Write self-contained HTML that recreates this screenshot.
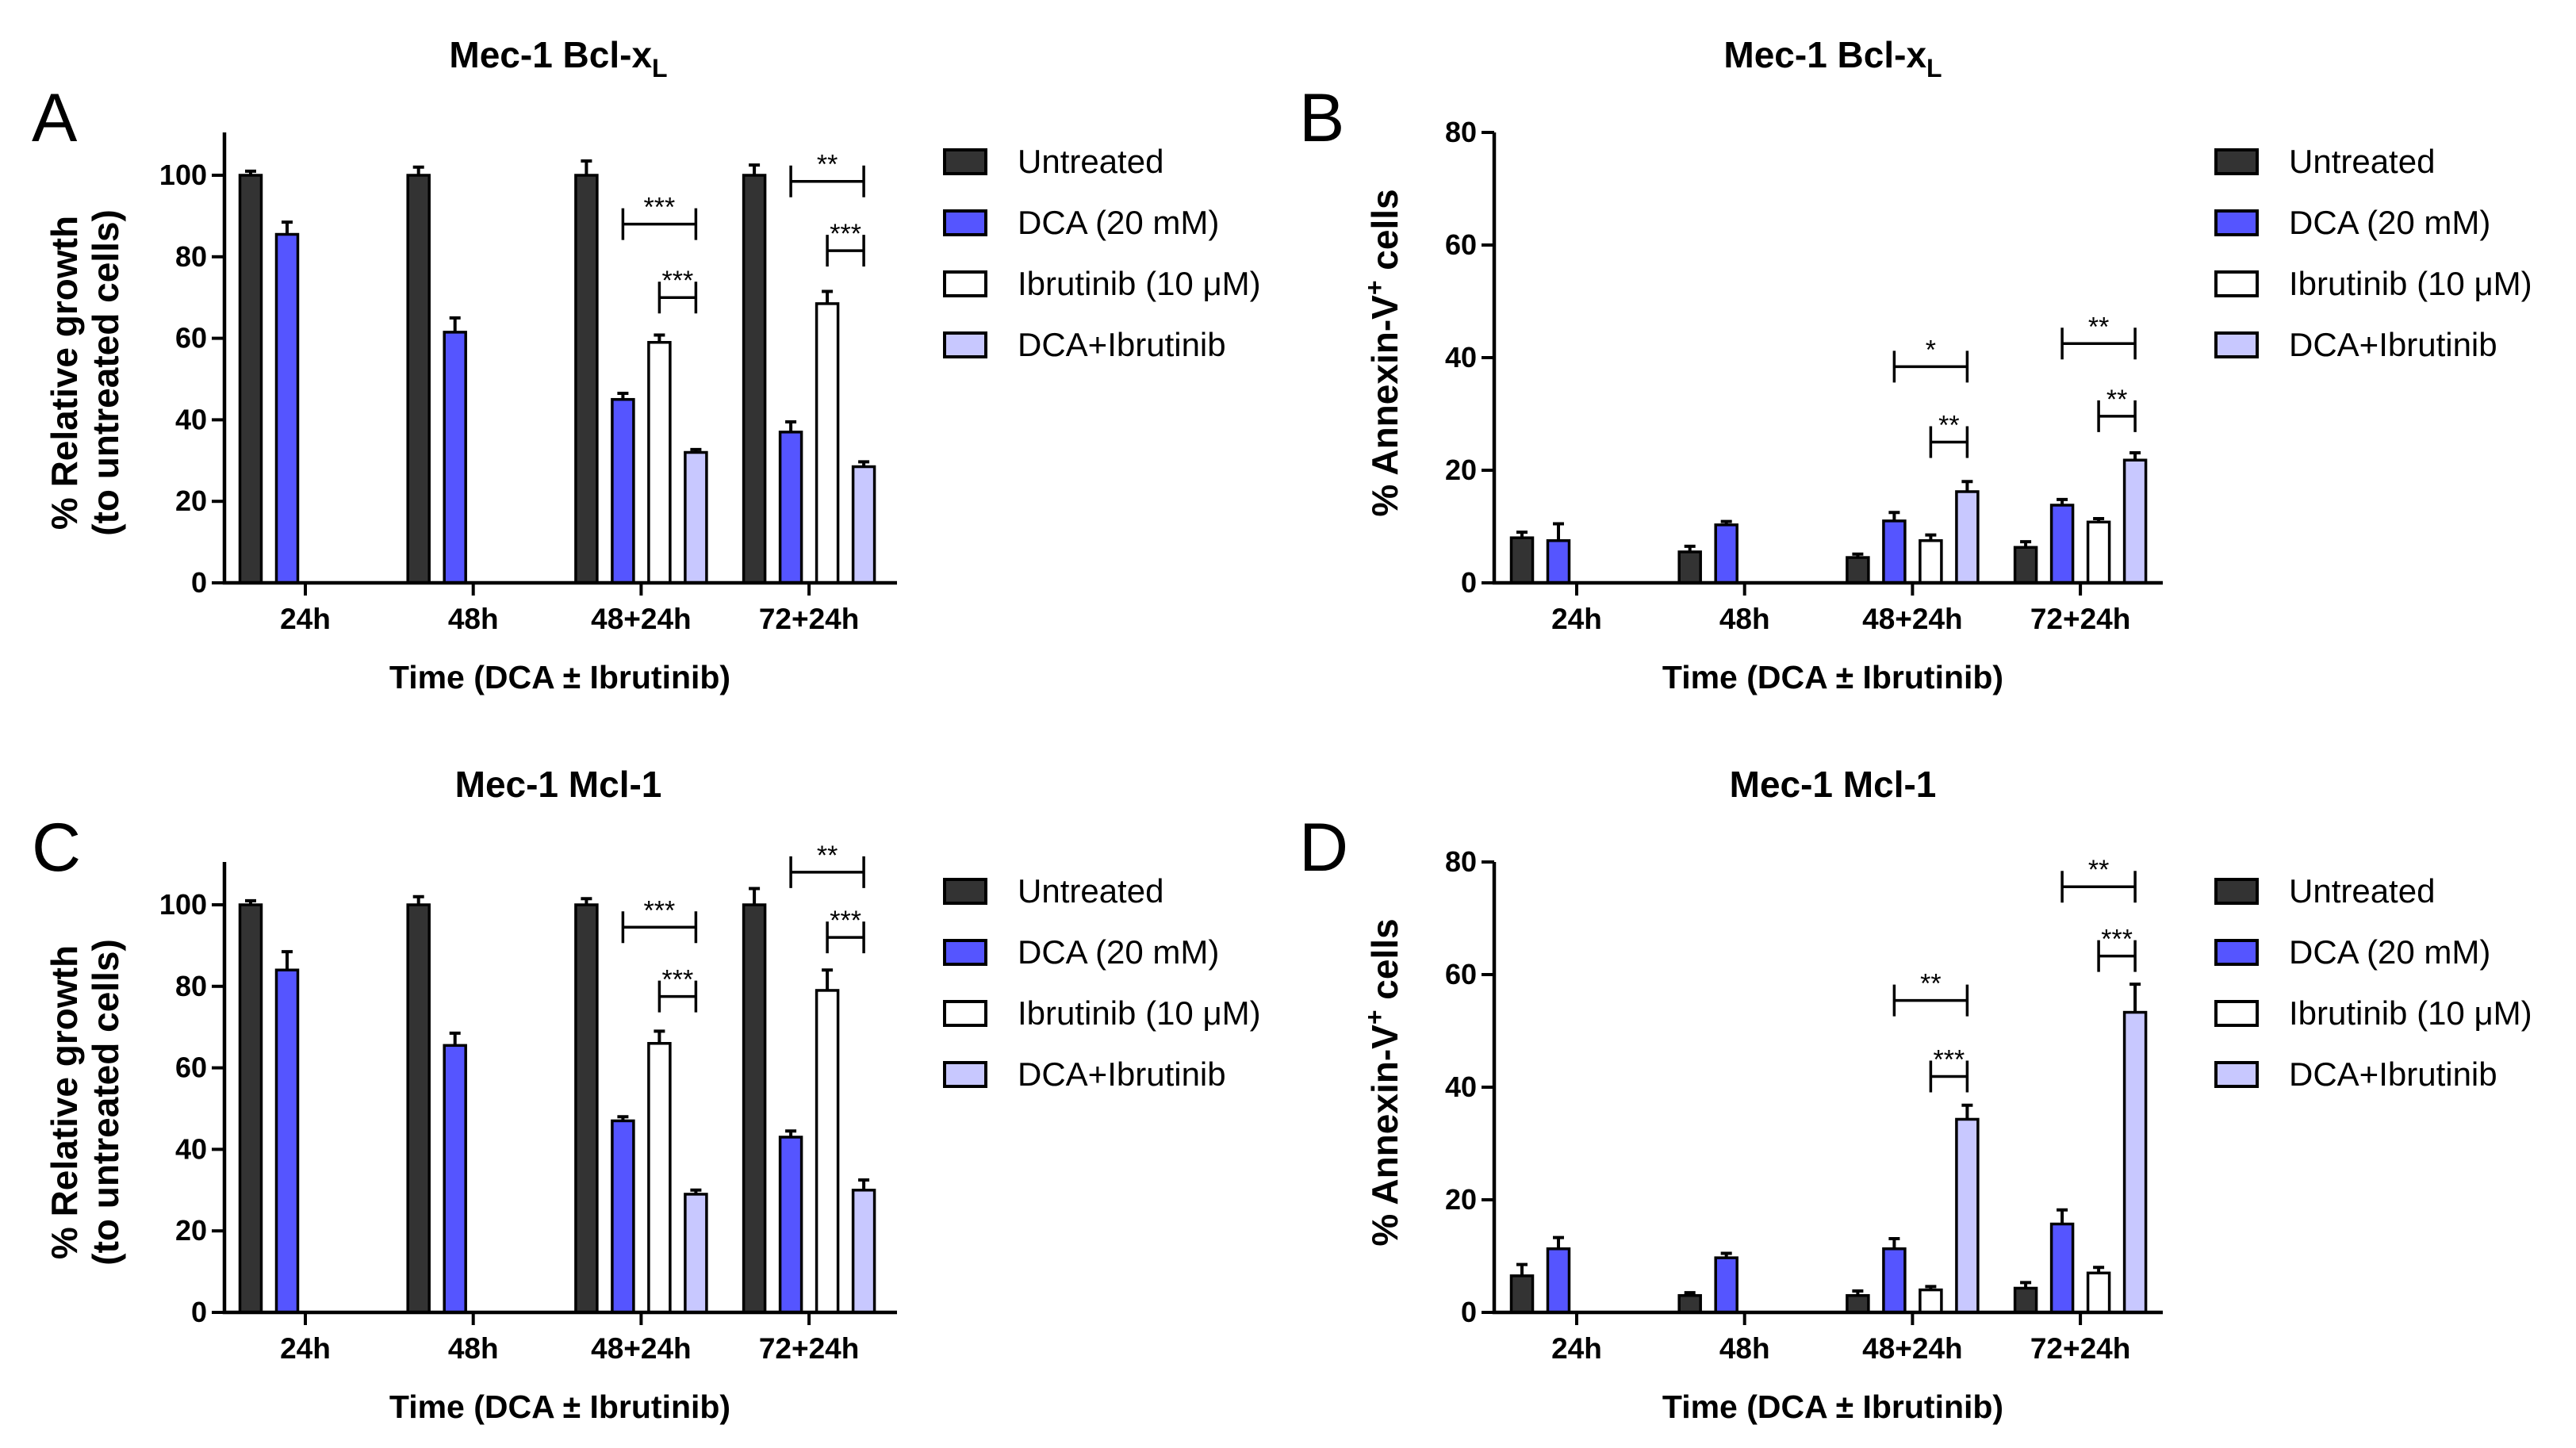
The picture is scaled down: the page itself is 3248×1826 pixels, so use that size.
<!DOCTYPE html>
<html><head><meta charset="utf-8">
<style>
html,body{margin:0;padding:0;background:#fff;}
svg{display:block;font-family:"Liberation Sans",Arial,sans-serif;}
</style></head>
<body>
<svg id="fig" width="3248" height="1826" viewBox="0 0 3248 1826" xmlns="http://www.w3.org/2000/svg"></svg>
<script>
const groups = ["24h","48h","48+24h","72+24h"];
const seriesNames = ["Untreated","DCA (20 mM)","Ibrutinib (10 \u03BCM)","DCA+Ibrutinib"];
// Panel A
const aUntreated = [100,100,100,100];
const aUntreatedErr = [1,2,3.5,2.5];
const aDCA = [85.5,61.5,45,37];
const aDCAErr = [3,3.5,1.5,2.5];
const aIbr = [null,null,59,68.5];
const aIbrErr = [0,0,1.8,3];
const aCombo = [null,null,32,28.5];
const aComboErr = [0,0,0.7,1.2];
const aSig = [[2,1,3,88,"***"],[2,2,3,70,"***"],[3,1,3,98.5,"**"],[3,2,3,81.5,"***"]];
// Panel B
const bUntreated = [8,5.5,4.5,6.3];
const bUntreatedErr = [1,1,0.6,1];
const bDCA = [7.5,10.3,11,13.8];
const bDCAErr = [3,0.6,1.5,1];
const bIbr = [null,null,7.5,10.8];
const bIbrErr = [0,0,1,0.6];
const bCombo = [null,null,16.2,21.8];
const bComboErr = [0,0,1.8,1.3];
const bSig = [[2,1,3,38.4,"*"],[2,2,3,25,"**"],[3,1,3,42.5,"**"],[3,2,3,29.6,"**"]];
// Panel C
const cUntreated = [100,100,100,100];
const cUntreatedErr = [1,2,1.5,4];
const cDCA = [84,65.5,47,43];
const cDCAErr = [4.5,3,1,1.5];
const cIbr = [null,null,66,79];
const cIbrErr = [0,0,3,5];
const cCombo = [null,null,29,30];
const cComboErr = [0,0,1,2.5];
const cSig = [[2,1,3,94.5,"***"],[2,2,3,77.5,"***"],[3,1,3,108,"**"],[3,2,3,92,"***"]];
// Panel D
const dUntreated = [6.5,3,3,4.3];
const dUntreatedErr = [2,0.5,0.8,1];
const dDCA = [11.3,9.7,11.3,15.7];
const dDCAErr = [2,0.8,1.8,2.5];
const dIbr = [null,null,4,7];
const dIbrErr = [0,0,0.6,1];
const dCombo = [null,null,34.3,53.3];
const dComboErr = [0,0,2.5,5];
const dSig = [[2,1,3,55.4,"**"],[2,2,3,41.9,"***"],[3,1,3,75.6,"**"],[3,2,3,63.3,"***"]];
const yTicksA = [0,20,40,60,80,100];
const yTicksB = [0,20,40,60,80];

const colors = ["#333333","#5555ff","#ffffff","#c8c8ff"];
const NS = "http://www.w3.org/2000/svg";
const svg = document.getElementById("fig");
function mk(tag, attrs, parent, text){
  const e = document.createElementNS(NS, tag);
  for (const k in attrs) e.setAttribute(k, attrs[k]);
  if (text !== undefined) e.textContent = text;
  (parent||svg).appendChild(e);
  return e;
}

function panel(opt){
  const g = mk("g", {});
  
  
  const ax = opt.ax, y0 = opt.y0, yTop = opt.yTop, ymax = opt.ymax;
  const yS = v => y0 - (v/ymax)*(y0 - yTop);
  const gx = i => opt.g0 + i*opt.gStep;
  const offs = [-69,-23,23,69];
  const bx = (i,s) => gx(i) + offs[s];
  const bw = 27;
  const t = mk("text", {x:opt.titleX, y:opt.titleY, "text-anchor":"middle", "font-size":46, "font-weight":"bold"}, g, opt.title);
  
  
  if (opt.sub){ mk("tspan",{"font-size":32,dy:12},t,opt.sub); }
  const L = mk("text", {x:opt.letterX, y:opt.letterY, "font-size":86}, g, opt.id.toUpperCase());
  
  
  const vals = opt.vals, errs = opt.errs;
  for (let s=0;s<4;s++){
    for (let i=0;i<groups.length;i++){
      const v = vals[s][i];
      if (v===null || v===undefined) continue;
      const x = bx(i,s);
      const r = mk("rect",{x:x-bw/2,y:yS(v),width:bw,height:y0-yS(v),fill:colors[s],stroke:"#000","stroke-width":3.5},g);
      
      
      const e = errs[s][i];
      if (e>0){
        const eb = mk("path",{d:`M${x} ${yS(v)} V${yS(v+e)} M${x-7} ${yS(v+e)} H${x+7}`,stroke:"#000","stroke-width":4,fill:"none"},g);
        
        
      }
    }
  }
  const axl = mk("path",{d:`M${ax} ${opt.axTop} V${y0} H${opt.axEnd}`,stroke:"#000","stroke-width":4.5,fill:"none"},g);
  
  
  opt.ticks.forEach(v=>{
    mk("path",{d:`M${ax-16} ${yS(v)} H${ax}`,stroke:"#000","stroke-width":4},g);
    const tl = mk("text",{x:ax-22,y:yS(v)+12,"text-anchor":"end","font-size":36,"font-weight":"bold"},g,String(v));
    
    
  });
  groups.forEach((c,i)=>{
    mk("path",{d:`M${gx(i)} ${y0} V${y0+16}`,stroke:"#000","stroke-width":4},g);
    const tl = mk("text",{x:gx(i),y:y0+58,"text-anchor":"middle","font-size":37,"font-weight":"bold"},g,c);
    
    
  });
  const xt = mk("text",{x:opt.xTitleX,y:y0+133,"text-anchor":"middle","font-size":41,"font-weight":"bold"},g,"Time (DCA \u00B1 Ibrutinib)");
  
  
  const yt = mk("text",{transform:`translate(${opt.yTitleX},${opt.yTitleY}) rotate(-90)`,"text-anchor":"middle","font-size":46,"font-weight":"bold"},g);
  
  
  if (opt.growth){
    mk("tspan",{x:0,y:0},yt,"% Relative growth");
    mk("tspan",{x:0,y:52},yt,"(to untreated cells)");
  } else {
    mk("tspan",{},yt,"% Annexin-V");
    mk("tspan",{"font-size":32,dy:-18},yt,"+");
    mk("tspan",{dy:18},yt," cells");
  }
  opt.sig.forEach(sg=>{
    const [gi,a,b,v,lab] = sg;
    const x1 = bx(gi,a), x2 = bx(gi,b), y = yS(v);
    const br = mk("path",{d:`M${x1} ${y-20} V${y+20} M${x1} ${y} H${x2} M${x2} ${y-20} V${y+20}`,stroke:"#000","stroke-width":3.5,fill:"none"},g);
    
    
    const st = mk("text",{x:(x1+x2)/2,y:y-10,"text-anchor":"middle","font-size":34},g,lab);
    
    
  });
  seriesNames.forEach((n,s)=>{
    const ly = opt.legY + s*77;
    const sw = mk("rect",{x:opt.legX,y:ly-15,width:52,height:30,fill:colors[s],stroke:"#000","stroke-width":4},g);
    
    
    const lt = mk("text",{x:opt.legX+92,y:ly+14,"font-size":42},g,n);
    
    
  });
}

panel({id:"a",title:"Mec-1 Bcl-x",sub:"L",titleX:704,titleY:85,letterX:40,letterY:178,
  ax:283,y0:735,yTop:221,ymax:100,axTop:167,axEnd:1131,g0:385,gStep:211.7,ticks:yTicksA,growth:true,
  yTitleX:97,yTitleY:470,xTitleX:706,legX:1191,legY:204,
  vals:[aUntreated,aDCA,aIbr,aCombo],errs:[aUntreatedErr,aDCAErr,aIbrErr,aComboErr],sig:aSig});
panel({id:"b",title:"Mec-1 Bcl-x",sub:"L",titleX:2311,titleY:85,letterX:1638,letterY:178,
  ax:1884,y0:735,yTop:167,ymax:80,axTop:167,axEnd:2727,g0:1988,gStep:211.7,ticks:yTicksB,growth:false,
  yTitleX:1762,yTitleY:445,xTitleX:2311,legX:2794,legY:204,
  vals:[bUntreated,bDCA,bIbr,bCombo],errs:[bUntreatedErr,bDCAErr,bIbrErr,bComboErr],sig:bSig});
panel({id:"c",title:"Mec-1 Mcl-1",titleX:704,titleY:1005,letterX:40,letterY:1098,
  ax:283,y0:1655,yTop:1141,ymax:100,axTop:1087,axEnd:1131,g0:385,gStep:211.7,ticks:yTicksA,growth:true,
  yTitleX:97,yTitleY:1390,xTitleX:706,legX:1191,legY:1124,
  vals:[cUntreated,cDCA,cIbr,cCombo],errs:[cUntreatedErr,cDCAErr,cIbrErr,cComboErr],sig:cSig});
panel({id:"d",title:"Mec-1 Mcl-1",titleX:2311,titleY:1005,letterX:1638,letterY:1098,
  ax:1884,y0:1655,yTop:1087,ymax:80,axTop:1087,axEnd:2727,g0:1988,gStep:211.7,ticks:yTicksB,growth:false,
  yTitleX:1762,yTitleY:1365,xTitleX:2311,legX:2794,legY:1124,
  vals:[dUntreated,dDCA,dIbr,dCombo],errs:[dUntreatedErr,dDCAErr,dIbrErr,dComboErr],sig:dSig});
</script>
</body></html>
